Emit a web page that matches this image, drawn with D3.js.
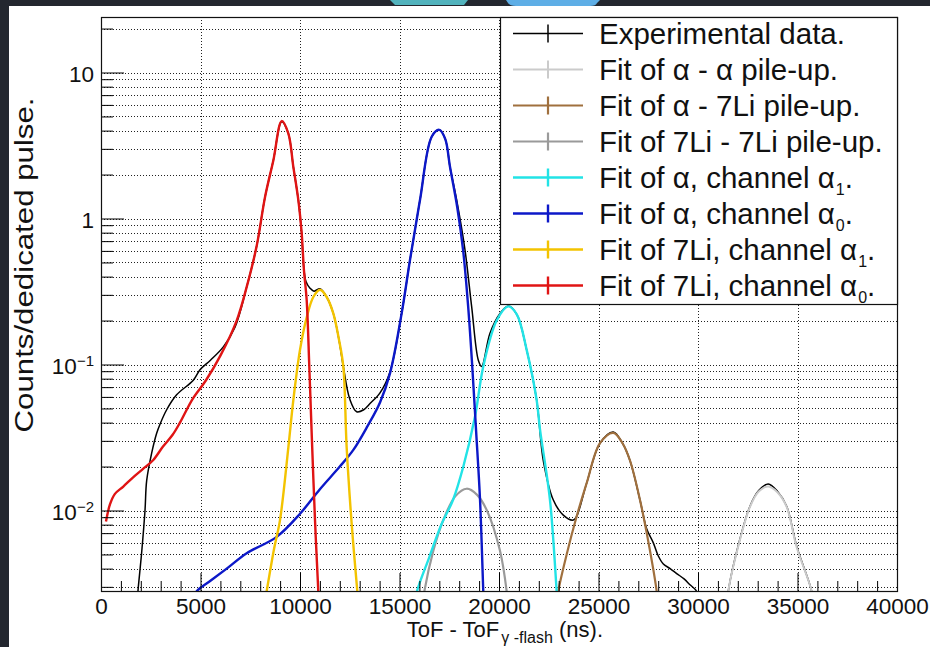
<!DOCTYPE html>
<html>
<head>
<meta charset="utf-8">
<title>ToF spectrum</title>
<script src="https://cdn.jsdelivr.net/npm/d3@7"></script>
<style>
  body { margin: 0; background: #23272f; }
  svg { display: block; font-family: "Liberation Sans", Arial, Helvetica, sans-serif; }
</style>
</head>
<body>
<svg id="chart" width="930" height="647"></svg>
<script>
// ---- data: [ToF (ns), counts/pulse] ----
var expData = [
  [1800, 0.0022], [1876, 0.003], [2040, 0.0051], [2211, 0.010], [2295, 0.016], [2546, 0.0247],
  [2797, 0.0338], [2965, 0.039], [3300, 0.049], [3800, 0.062], [4640, 0.078], [4975, 0.092],
  [5500, 0.107], [6146, 0.132], [6734, 0.18], [7322, 0.34], [7824, 0.65], [8241, 1.4],
  [8660, 2.5], [9080, 4.6], [9412, 3.83], [9665, 2.26], [9915, 1.34], [10085, 0.79],
  [10166, 0.5], [10300, 0.37], [10502, 0.333], [10700, 0.318], [11005, 0.33], [11340, 0.29],
  [11673, 0.224], [11950, 0.15], [12176, 0.097], [12500, 0.058], [12849, 0.0475], [13200, 0.049],
  [13517, 0.054], [14020, 0.064], [14522, 0.089], [15108, 0.224], [15527, 0.52],
  [16030, 1.34], [16617, 3.63], [17000, 4.05], [17300, 3.5], [17537, 2.26], [17872, 1.34],
  [18291, 0.61], [18626, 0.249], [18961, 0.107], [19129, 0.097], [19547, 0.164], [20050, 0.224],
  [20467, 0.252], [20900, 0.22], [21390, 0.126], [21893, 0.057], [22225, 0.022], [22730, 0.0118],
  [23230, 0.0093], [23733, 0.0086], [23900, 0.0091], [24405, 0.0154], [25075, 0.0289], [25745, 0.0345],
  [26200, 0.029], [26582, 0.022], [27085, 0.0118], [27420, 0.0075], [27755, 0.0060], [28000, 0.0049],
  [28258, 0.0043], [28600, 0.0040], [28928, 0.0037], [29300, 0.0034], [29597, 0.0031], [29930, 0.0028],
  [30050, 0.0022], [30700, null],
  [31450, 0.0022], [31520, 0.0028], [32110, 0.0064], [32612, 0.0107], [33050, 0.0137], [33530, 0.0152],
  [34000, 0.0135], [34455, 0.0107], [34958, 0.0057], [35712, 0.0028], [35800, 0.0022]
];
var fitAlphaAlpha = [
  [31450, 0.0022], [31520, 0.0028], [32110, 0.0063], [32612, 0.0106], [33050, 0.0135], [33530, 0.0146],
  [34000, 0.0133], [34455, 0.0106], [34958, 0.0056], [35712, 0.0028], [35800, 0.0022]
];
var fitAlphaLi = [
  [22900, 0.0022], [22980, 0.0028], [23400, 0.0050], [23900, 0.0091], [24405, 0.0154], [25075, 0.0289],
  [25745, 0.034], [26200, 0.029], [26582, 0.022], [27085, 0.0118], [27588, 0.0053], [27923, 0.0028],
  [27990, 0.0022]
];
var fitLiLi = [
  [16150, 0.0022], [16250, 0.0028], [16700, 0.0053], [17200, 0.0086], [17800, 0.0125], [18375, 0.0141],
  [18900, 0.0128], [19380, 0.0101], [20050, 0.0053], [20385, 0.0028], [20450, 0.0022]
];
var fitAlpha1 = [
  [15750, 0.0022], [15880, 0.0028], [16500, 0.0048], [17100, 0.0080], [17688, 0.0118], [18208, 0.020],
  [18794, 0.044], [19210, 0.097], [19883, 0.20], [20467, 0.25], [20900, 0.22], [21390, 0.126],
  [21893, 0.057], [22060, 0.036], [22562, 0.0118], [22898, 0.0028], [22950, 0.0022]
];
var fitAlpha0 = [
  [4600, 0.0025], [4808, 0.0028], [5500, 0.0033], [6316, 0.004], [7322, 0.0051], [8829, 0.0066],
  [10000, 0.0095], [11000, 0.014], [12000, 0.02], [12680, 0.026], [13400, 0.038], [14020, 0.055],
  [14522, 0.087], [15108, 0.224], [15527, 0.52], [16030, 1.34], [16617, 3.63], [17000, 4.05],
  [17300, 3.5], [17537, 2.26], [17900, 1.2], [18200, 0.6], [18450, 0.25], [18650, 0.1],
  [18850, 0.035], [19045, 0.012], [19210, 0.0028], [19240, 0.0022]
];
var fitLi1 = [
  [8200, 0.0022], [8325, 0.0028], [8700, 0.0055], [8995, 0.0086], [9414, 0.027], [9665, 0.057],
  [10000, 0.126], [10335, 0.21], [10670, 0.29], [11005, 0.325], [11340, 0.29], [11673, 0.224],
  [11950, 0.15], [12176, 0.097], [12345, 0.027], [12600, 0.008], [12880, 0.0028], [12950, 0.0022]
];
var fitLi0 = [
  [250, 0.0084], [450, 0.011], [700, 0.0130], [1121, 0.0146], [1600, 0.0168], [2100, 0.0192],
  [2628, 0.0222], [3116, 0.0274], [3600, 0.033], [3970, 0.040], [4600, 0.058], [5276, 0.078],
  [6000, 0.115], [6819, 0.20], [7322, 0.34], [7824, 0.65], [8241, 1.4], [8660, 2.5],
  [9080, 4.65], [9412, 3.83], [9665, 2.26], [9915, 1.34], [10085, 0.79], [10200, 0.44],
  [10335, 0.277], [10467, 0.097], [10586, 0.034], [10754, 0.0086], [10920, 0.0028], [10990, 0.002]
];

var legendLabels = ["Experimental data.", "Fit of \u03b1 - \u03b1 pile-up.", "Fit of \u03b1 - 7Li pile-up.",
  "Fit of 7Li - 7Li pile-up.", "Fit of \u03b1, channel \u03b1", "Fit of \u03b1, channel \u03b1",
  "Fit of 7Li, channel \u03b1", "Fit of 7Li, channel \u03b1"];
var legendSubs = ["", "", "", "", "1", "0", "1", "0"];

var xTicks = d3.range(0, 40001, 5000);
var xMinorTicks = d3.range(0, 40001, 1000).filter(function (d) { return d % 5000 !== 0; });
var yTicks = [0.01, 0.1, 1, 10];
var yTickBase = ["10", "10", "1", "10"];
var yTickExp = ["\u22122", "\u22121", "", ""];

// ---- layout ----
var plot = {left: 101, right: 897, top: 17, bottom: 591};

var svg = d3.select("#chart");

// white canvas + window decorations
svg.append("rect").attr("x", 0).attr("y", 0).attr("width", 930).attr("height", 647).attr("fill", "#23272f");
svg.append("rect").attr("x", 9).attr("y", 6).attr("width", 921).attr("height", 641).attr("fill", "#fff");
svg.append("path").attr("d", "M390,0 L468,0 L464,5 L395,5 Z").attr("fill", "#52b3bd");
svg.append("path").attr("d", "M506,0 L600,0 L597,3 Q596,6 590,6 L516,6 Q510,6 508,3 Z").attr("fill", "#5eaee6");

var x = d3.scaleLinear().domain([0, 40000]).range([plot.left, plot.right]);
var y = d3.scaleLog().domain([0.00281, 24]).range([plot.bottom, plot.top]);

var yMinorTicks = y.ticks().filter(function (d) { return yTicks.indexOf(d) < 0; })
  .filter(function (d) { return d >= 0.00281 && d <= 24; });

// grid
var grid = svg.append("g").attr("stroke", "#222").attr("stroke-width", 1).attr("stroke-dasharray", "1,2");
grid.selectAll(".gy").data(yTicks.concat(yMinorTicks)).enter().append("line")
  .attr("x1", plot.left).attr("x2", plot.right)
  .attr("y1", function (d) { return Math.round(y(d)) + 0.5; })
  .attr("y2", function (d) { return Math.round(y(d)) + 0.5; });
grid.selectAll(".gx").data(xTicks.slice(1, -1)).enter().append("line")
  .attr("y1", plot.top).attr("y2", plot.bottom)
  .attr("x1", function (d) { return Math.round(x(d)) + 0.5; })
  .attr("x2", function (d) { return Math.round(x(d)) + 0.5; });

// curves
svg.append("clipPath").attr("id", "clip").append("rect")
  .attr("x", plot.left).attr("y", plot.top)
  .attr("width", plot.right - plot.left).attr("height", plot.bottom - plot.top);

var line = d3.line()
  .defined(function (d) { return d[1] != null; })
  .x(function (d) { return x(d[0]); })
  .y(function (d) { return y(d[1]); })
  .curve(d3.curveCatmullRom.alpha(0.5));

var series = [
  {data: expData, color: "#000", width: 1.5},
  {data: fitAlphaAlpha, color: "#cbcbcb", width: 2},
  {data: fitAlphaLi, color: "#a0703e", width: 2.2},
  {data: fitLiLi, color: "#9a9a9a", width: 2.2},
  {data: fitAlpha1, color: "#22e3e6", width: 2.4},
  {data: fitAlpha0, color: "#0c18c8", width: 2.4},
  {data: fitLi1, color: "#f3c300", width: 2.4},
  {data: fitLi0, color: "#e01414", width: 2.4}
];
var curves = svg.append("g").attr("clip-path", "url(#clip)");
// data first, fits on top of it
series.forEach(function (s) {
  curves.append("path").datum(s.data)
    .attr("fill", "none").attr("stroke", s.color).attr("stroke-width", s.width)
    .attr("stroke-linejoin", "round").attr("d", line);
});

// axes
var xAxis = svg.append("g").attr("transform", "translate(0," + plot.bottom + ")")
  .call(d3.axisBottom(x).tickValues(xTicks).tickSize(-18).tickPadding(7).tickFormat(d3.format("d")));
xAxis.selectAll(".domain").remove();
xAxis.attr("font-family", null).attr("font-size", "22.5px");
xAxis.selectAll("text").attr("fill", "#111");
svg.append("g").attr("transform", "translate(0," + plot.bottom + ")")
  .call(d3.axisBottom(x).tickValues(xMinorTicks).tickSize(-10).tickFormat(""))
  .selectAll(".domain").remove();

var yAxis = svg.append("g").attr("transform", "translate(" + plot.left + ",0)")
  .call(d3.axisLeft(y).tickValues(yTicks).tickSize(-23).tickFormat(""));
svg.append("g").attr("transform", "translate(" + plot.left + ",0)")
  .call(d3.axisLeft(y).tickValues(yMinorTicks).tickSize(-12).tickFormat(""))
  .selectAll(".domain").remove();
yAxis.selectAll(".domain").remove();

var yLab = svg.append("g").attr("fill", "#111");
yTicks.forEach(function (v, i) {
  var t = yLab.append("text").attr("text-anchor", "end").attr("x", 94).attr("y", y(v) + 9.5)
    .attr("font-size", "22.5px");
  t.append("tspan").text(yTickBase[i]);
  if (yTickExp[i]) {
    t.append("tspan").attr("font-size", "15px").attr("dy", -8).text(yTickExp[i]);
  }
});

// frame
svg.append("rect").attr("x", plot.left + 0.5).attr("y", plot.top + 0.5)
  .attr("width", plot.right - plot.left).attr("height", plot.bottom - plot.top)
  .attr("fill", "none").attr("stroke", "#111").attr("stroke-width", 1.2);

// axis titles
var xt = svg.append("text").attr("x", 603).attr("y", 637).attr("text-anchor", "end")
  .attr("font-size", "22px").attr("fill", "#111");
xt.append("tspan").text("ToF - ToF");
xt.append("tspan").attr("font-size", "16px").attr("dy", 6).attr("dx", 2).text("\u03b3 -flash");
xt.append("tspan").attr("dy", -6).text(" (ns).");

svg.append("text")
  .attr("transform", "translate(33,265) rotate(-90)")
  .attr("text-anchor", "middle").attr("font-size", "26px").attr("fill", "#111")
  .attr("textLength", 335).attr("lengthAdjust", "spacingAndGlyphs")
  .text("Counts/dedicated pulse.");

// legend
var leg = svg.append("g");
leg.append("rect").attr("x", 500.5).attr("y", plot.top + 0.5).attr("width", 397).attr("height", 287)
  .attr("fill", "#fff").attr("stroke", "#111").attr("stroke-width", 1.2);
series.forEach(function (s, i) {
  var cy = 33.5 + i * 36;
  var g = leg.append("g").attr("stroke", s.color).attr("stroke-width", s.width);
  g.append("line").attr("x1", 513).attr("x2", 583).attr("y1", cy).attr("y2", cy);
  g.append("line").attr("x1", 548).attr("x2", 548).attr("y1", cy - 9).attr("y2", cy + 9);
  var t = leg.append("text").attr("x", 599).attr("y", cy + 10).attr("font-size", "29.5px").attr("fill", "#111");
  t.append("tspan").text(legendLabels[i]);
  if (legendSubs[i]) {
    t.append("tspan").attr("font-size", "16px").attr("dy", 7).attr("dx", 1).text(legendSubs[i]);
    t.append("tspan").attr("dy", -7).text(".");
  }
});
</script>
</body>
</html>
